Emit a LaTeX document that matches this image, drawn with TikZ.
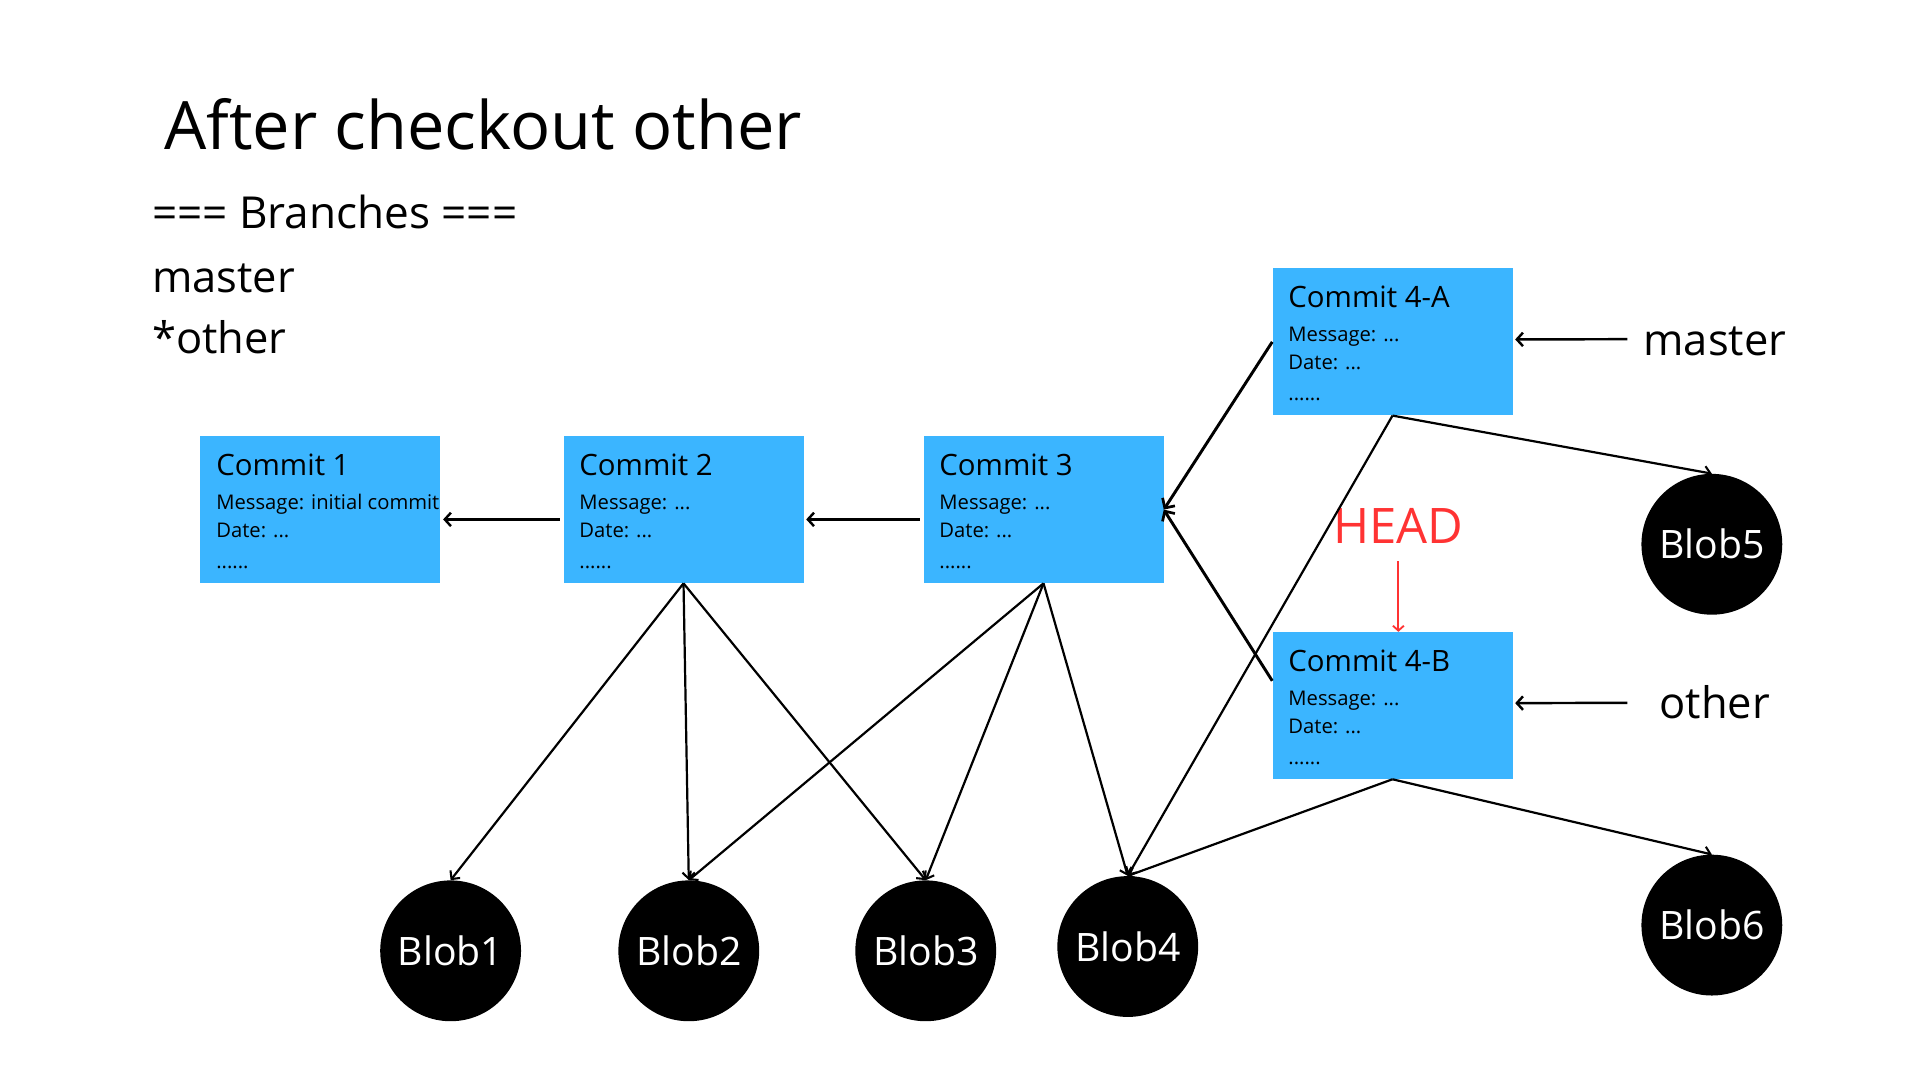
\documentclass[tikz,border=0pt]{standalone}
\usepackage{fontspec}
\setmainfont{Open Sans}
\usetikzlibrary{arrows.meta,calc}
\definecolor{cblue}{HTML}{3BB5FF}
\definecolor{hred}{HTML}{FF3333}
\newcommand\fs[1]{\fontsize{#1}{#1}\selectfont}
\newcommand\commitbox[5]{%
  \node[box, anchor=north west] (#1) at (#2,#3) {};
  \node[ctitle] at ($(#1.north west)+(13,32)$) {#4};
  \node[cline] at ($(#1.north west)+(13,60)$) {#5};
  \node[cline] at ($(#1.north west)+(13,83)$) {Date: ...};
  \node[cline] at ($(#1.north west)+(13,108)$) {......};
}
\tikzset{
  box/.style={fill=cblue, draw=none, minimum width=196pt, minimum height=120pt, inner sep=0pt},
  ctitle/.style={anchor=base west, inner sep=0pt, font=\fs{24}},
  cline/.style={anchor=base west, inner sep=0pt, font=\fs{16.5}},
  blob/.style={circle, fill=black, minimum size=115pt, inner sep=0pt, text=white, font=\fs{32}},
  bigtext/.style={anchor=base west, inner sep=0pt, font=\fs{35.5}},
  ln/.style={line width=1.8pt, -{Straight Barb[length=5pt,width=10pt,line width=1.7pt]}},
  harr/.style={line width=2pt, -{Straight Barb[length=5pt,width=11pt,line width=2pt]}},
  parr/.style={line width=2.4pt, -{Straight Barb[length=6pt,width=12pt,line width=2.2pt]}},
}
\begin{document}
\begin{tikzpicture}[x=1pt,y=-1pt]
\useasboundingbox (0,0) rectangle (1568,882);
% title and branch list
\node[anchor=base west, inner sep=0pt, font=\fs{54.5}] (title) at (134,122) {After checkout other};
\node[anchor=base west, inner sep=0pt, font=\fs{36}] (br) at (124,187) {=== Branches ===};
\node[bigtext] (brm) at (124,239) {master};
\node[bigtext] (bro) at (124,289) {*other};
% commits
\commitbox{c1}{163.5}{356}{Commit 1}{Message: initial commit}
\commitbox{c2}{460}{356}{Commit 2}{Message: ...}
\commitbox{c3}{754}{356}{Commit 3}{Message: ...}
\commitbox{c4a}{1039}{219}{Commit 4-A}{Message: ...}
\commitbox{c4b}{1039}{516}{Commit 4-B}{Message: ...}
% blobs
\node[blob] (b1) at (368,776.5) {Blob1};
\node[blob] (b2) at (562.5,776.5) {Blob2};
\node[blob] (b3) at (756,776.5) {Blob3};
\node[blob] (b4) at (921,773) {Blob4};
\node[blob] (b5) at (1398,444.5) {Blob5};
\node[blob] (b6) at (1398,755.5) {Blob6};
% branch labels
\node[bigtext] (lm) at (1342,290) {master};
\node[bigtext] (lo) at (1355,587) {other};
\node[anchor=base, inner sep=0pt, font=\fs{40}, text=hred] (head) at (1142,444) {HEAD};
% commit parent arrows
\draw[harr] ($(c2.west)+(-3,8)$) -- ($(c1.east)+(2,8)$);
\draw[harr] ($(c3.west)+(-3,8)$) -- ($(c2.east)+(2,8)$);
\draw[parr] (c4a.west) -- (c3.east);
\draw[parr] ($(c4b.north west)+(0,40)$) -- (c3.east);
% branch pointers
\coordinate (mstart) at (1329,277);
\coordinate (ostart) at (1329,574);
\draw[harr] (mstart) -- ($(c4a.east)+(2,-2)$);
\draw[harr] (ostart) -- ($(c4b.east)+(2,-2)$);
\draw[hred, line width=1.7pt, -{Straight Barb[length=4pt,width=9pt,line width=1.5pt]}] ($(head.south)+(0,14)$) -- (c4b.north -| head.south);
% blob references
\draw[ln] (c2.south) -- (b1.north);
\draw[ln] (c2.south) -- (b2.north);
\draw[ln] (c2.south) -- (b3.north);
\draw[ln] (c3.south) -- (b2.north);
\draw[ln] (c3.south) -- (b3.north);
\draw[ln] (c3.south) -- (b4.north);
\draw[ln] (c4a.south) -- (b4.north);
\draw[ln] (c4a.south) -- (b5.north);
\draw[ln] (c4b.south) -- (b4.north);
\draw[ln] (c4b.south) -- (b6.north);
\end{tikzpicture}
\end{document}
